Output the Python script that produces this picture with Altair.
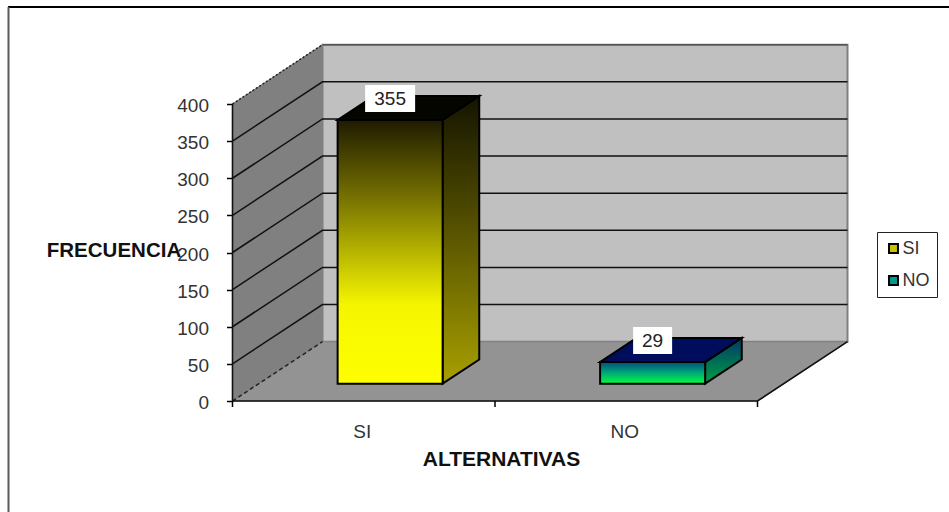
import altair as alt
import pandas as pd

# Chart values
categories = ["SI", "NO"]
values = [355, 29]
y_ticks = [0, 50, 100, 150, 200, 250, 300, 350, 400]
grid_levels = [50, 100, 150, 200, 250, 300, 350]
x_boundaries = [0, 1, 2]
legend_fills = ["#c9c200", "#009a8a"]

# Scale set-up for the oblique projection: one category is 262.5 px wide,
# one frequency unit is 0.7425 px tall, the depth axis shifts by 90 px / 59.3 px.
W, H = 949, 512
X0, Y0 = 232.5, 401.0
CAT_PX, VAL_PX = 262.5, 0.7425
DEPTH_U, DEPTH_V = 90 / CAT_PX, 59.3 / VAL_PX
Y_MAX = 400
BAR_LEFT, BAR_RIGHT = 0.3, 0.7
BAR_FRONT, BAR_BACK = 0.293, 0.70
TICK_LEN = 6 / VAL_PX
FONT = "Liberation Sans"

x_scale = alt.Scale(domain=[-X0 / CAT_PX, (W - X0) / CAT_PX], range=[0, W], nice=False, zero=False)
y_scale = alt.Scale(domain=[(Y0 - H) / VAL_PX, Y0 / VAL_PX], range=[H, 0], nice=False, zero=False)


def px(u, z):
    return u + z * DEPTH_U


def py(v, z):
    return v + z * DEPTH_V


def X(**kw):
    kw.setdefault("axis", None)
    return alt.X("x:Q", scale=x_scale, **kw)


def Y(**kw):
    kw.setdefault("axis", None)
    return alt.Y("y:Q", scale=y_scale, **kw)


def upright_face(edges, **mark):
    """Face with vertical edges: edges are (u, z, v_low, v_high)."""
    rows = [{"x": px(u, z), "y": py(hi, z), "y2": py(lo, z)} for u, z, lo, hi in edges]
    return alt.Chart(pd.DataFrame(rows)).mark_area(orient="vertical", **mark).encode(
        x=X(), y=Y(), y2="y2:Q"
    )


def flat_face(v, u0, u1, z0, z1, **mark):
    """Horizontal face at height v."""
    rows = [
        {"y": py(v, z), "x": px(u0, z), "x2": px(u1, z)} for z in (z0, z1)
    ]
    return alt.Chart(pd.DataFrame(rows)).mark_area(orient="horizontal", **mark).encode(
        y=Y(), x=X(), x2="x2:Q"
    )


def path(points, **mark):
    """Polyline through (u, v, z) points."""
    rows = [{"x": px(u, z), "y": py(v, z), "i": i} for i, (u, v, z) in enumerate(points)]
    return alt.Chart(pd.DataFrame(rows)).mark_line(**mark).encode(
        x=X(), y=Y(), order="i:O"
    )


def gradient(*stops):
    return alt.Gradient(
        gradient="linear", x1=0, x2=0, y1=0, y2=1,
        stops=[alt.GradientStop(offset=o, color=c) for o, c in stops],
    )


layers = []

# Page frame
layers.append(alt.Chart(pd.DataFrame({"a": [0]})).mark_rule(color="#000000", strokeWidth=2).encode(
    x=alt.value(8), x2=alt.value(W), y=alt.value(7)))
layers.append(alt.Chart(pd.DataFrame({"a": [0]})).mark_rule(color="#5a5a5a", strokeWidth=2).encode(
    x=alt.value(8.5), y=alt.value(7), y2=alt.value(H)))

# Walls and floor
layers.append(upright_face([(0, 1, 0, Y_MAX), (2, 1, 0, Y_MAX)], fill="#c0c0c0", stroke="#808080", strokeWidth=2))
layers.append(upright_face([(0, 0, 0, Y_MAX), (0, 1, 0, Y_MAX)], fill="#808080", stroke="#808080", strokeWidth=1))
layers.append(flat_face(0, 0, 2, 0, 1, fill="#939393", stroke="#808080", strokeWidth=1))

# Gridlines wrapping the side and back walls
for level in grid_levels:
    layers.append(path([(0, level, 0), (0, level, 1), (2, level, 1)], color="#111111", strokeWidth=1.5))
layers.append(path([(2, Y_MAX, 1), (0, Y_MAX, 1)], color="#555555", strokeWidth=1.5))
layers.append(path([(0, Y_MAX, 0), (0, Y_MAX, 1)], color="#222222", strokeWidth=1.5, strokeDash=[2, 2]))
layers.append(path([(0, 0, 0), (0, 0, 1)], color="#222222", strokeWidth=1.5, strokeDash=[4, 3]))

# Outer edges
layers.append(path([(0, Y_MAX, 0), (0, 0, 0), (2, 0, 0), (2, 0, 1)], color="#111111", strokeWidth=1.6))

# Bars
bar_styles = [
    dict(
        top="#050500",
        front=gradient((0, "#1f1b00"), (0.3, "#787300"), (0.7, "#f5f500"), (1, "#ffff00")),
        side=gradient((0, "#141400"), (0.4, "#4d4900"), (1, "#a8a000")),
    ),
    dict(
        top="#000d5c",
        front=gradient((0, "#00507a"), (0.5, "#00a878"), (1, "#00ff3c")),
        side=gradient((0, "#00386a"), (1, "#00a040")),
    ),
]
for i, (value, style) in enumerate(zip(values, bar_styles)):
    u0, u1 = i + BAR_LEFT, i + BAR_RIGHT
    stroke = dict(stroke="#000000", strokeWidth=2)
    layers.append(upright_face([(u1, BAR_FRONT, 0, value), (u1, BAR_BACK, 0, value)], fill=style["side"], **stroke))
    layers.append(flat_face(value, u0, u1, BAR_FRONT, BAR_BACK, fill=style["top"], **stroke))
    layers.append(upright_face([(u0, BAR_FRONT, 0, value), (u1, BAR_FRONT, 0, value)], fill=style["front"], **stroke))

# Value labels on white plates
for i, (value, plate_width) in enumerate(zip(values, [50, 39])):
    spot = pd.DataFrame({
        "x": [px(i + 0.5, BAR_FRONT)], "y": [py(value, BAR_FRONT)], "label": [str(value)],
    })
    base = alt.Chart(spot).encode(x=X(), y=Y())
    layers.append(base.mark_rect(width=plate_width, height=27, yOffset=-21.5, color="#ffffff"))
    layers.append(base.mark_text(font=FONT, fontSize=19, color="#222222", dy=-21).encode(text="label:N"))

# Frequency axis, with its title
y_frame = pd.DataFrame({"x": [0] * len(y_ticks), "y": y_ticks})
layers.append(alt.Chart(y_frame).mark_point(opacity=0).encode(
    x=X(),
    y=Y(axis=alt.Axis(
        values=y_ticks, offset=-X0, domain=False, grid=False, tickSize=6, tickWidth=1.5,
        tickColor="#000000", labelFont=FONT, labelFontSize=19, labelColor="#333333", labelPadding=18,
        labelOffset=1.5,
        title="FRECUENCIA", titleAngle=0, titleFont=FONT, titleFontSize=20.5, titleFontWeight="bold",
        titleColor="#111111", titleX=-119, titleY=250, titleAlign="center", titleBaseline="middle",
    )),
))

# Category boundary ticks below the floor's front edge
tick_frame = pd.DataFrame({
    "x": x_boundaries, "y": [0] * len(x_boundaries), "y2": [-TICK_LEN] * len(x_boundaries),
})
layers.append(alt.Chart(tick_frame).mark_rule(color="#000000", strokeWidth=1.5).encode(
    x=X(), y=Y(), y2="y2:Q",
))

# Category labels and the axis title
centers = [i + 0.5 for i in range(len(categories))]
cat_frame = pd.DataFrame({"x": centers, "y": [0] * len(centers)})
label_expr = "[" + ",".join(f"'{c}'" for c in categories) + "][floor(datum.value)]"
layers.append(alt.Chart(cat_frame).mark_point(opacity=0).encode(
    x=X(axis=alt.Axis(
        values=centers, offset=Y0 - H, domain=False, grid=False, ticks=False, labelExpr=label_expr,
        labelFont=FONT, labelFontSize=19, labelColor="#333333", labelPadding=21, labelAngle=0,
        labelOffset=-2,
        title="ALTERNATIVAS", titleFont=FONT, titleFontSize=21, titleFontWeight="bold",
        titleColor="#111111", titleX=501, titleY=58, titleAnchor="middle", titleBaseline="middle",
    )),
    y=Y(),
))

# Invisible points carry the series legend; the trailing space widens its box
series_frame = pd.DataFrame({
    "x": [px(i + 0.5, BAR_FRONT) for i in range(len(categories))],
    "y": [py(v, BAR_FRONT) for v in values],
    "serie": categories,
})
layers.append(alt.Chart(series_frame).mark_square(opacity=0).encode(
    x=X(), y=Y(),
    color=alt.Color(
        "serie:N",
        scale=alt.Scale(domain=categories, range=legend_fills),
        legend=alt.Legend(
            title=None, orient="none", legendX=877, legendY=232, fillColor="#ffffff",
            strokeColor="#222222", padding=7.5, symbolType="square", symbolSize=80,
            symbolOpacity=1, symbolStrokeColor="#000000", symbolStrokeWidth=2,
            labelFont=FONT, labelFontSize=18, labelColor="#333333", labelOffset=0,
            labelExpr="datum.label + ' '", rowPadding=14, symbolOffset=0,
        ),
    ),
))

chart = (
    alt.layer(*layers)
    .resolve_axis(x="independent", y="independent")
    .properties(
        width=W, height=H, padding=0,
        autosize=alt.AutoSizeParams(type="none"),
        background="#ffffff",
    )
    .configure_view(stroke=None)
)

chart.save("out.html", embed_options={"renderer": "svg", "actions": False})
